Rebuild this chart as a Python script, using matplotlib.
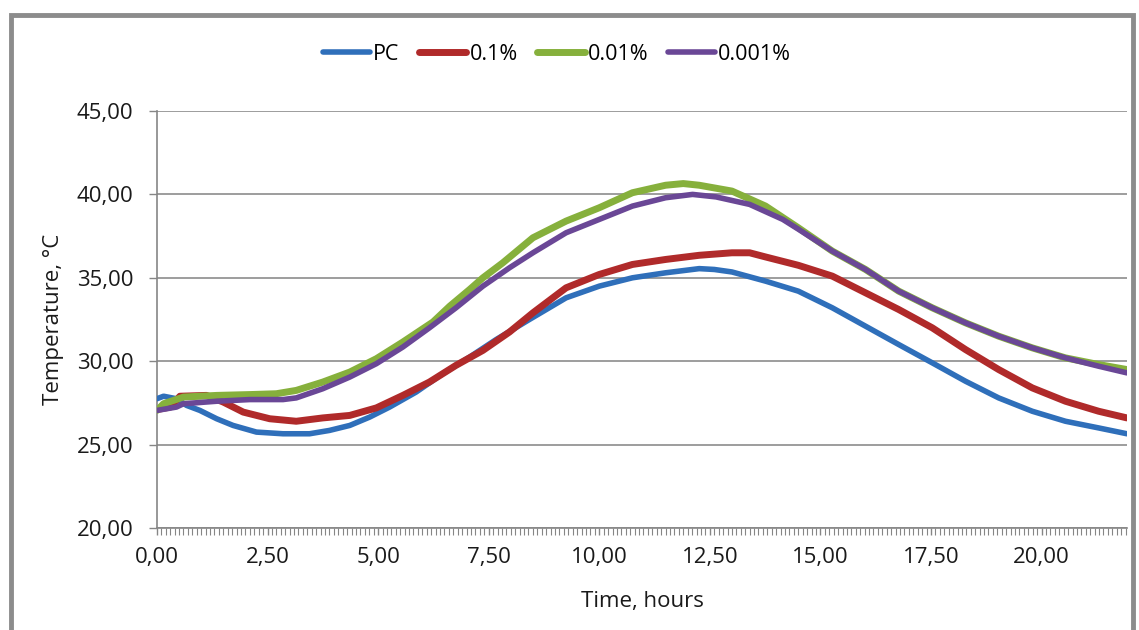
import matplotlib
matplotlib.use("Agg")
import matplotlib.pyplot as plt
from matplotlib.ticker import MultipleLocator, FuncFormatter
from matplotlib.patches import Rectangle

plt.rcParams['font.family'] = ['Open Sans', 'DejaVu Sans']

# values (hours, temperature in C)
pc_hours = [0, 0.15, 0.44, 0.67, 0.97, 1.35, 1.72, 2.25, 2.85, 3.45, 3.9, 4.36, 4.81,
            5.26, 5.86, 6.46, 7.07, 7.67, 8.42, 9.25, 10.0, 10.75, 11.5, 12.26, 12.6,
            13.0, 13.76, 14.5, 15.27, 16.02, 16.77, 17.53, 18.28, 19.03, 19.79, 20.54,
            21.29, 21.93]
pc_temp = [27.75, 27.9, 27.75, 27.35, 27.05, 26.55, 26.15, 25.75, 25.65, 25.65, 25.85,
           26.15, 26.65, 27.25, 28.15, 29.25, 30.25, 31.3, 32.5, 33.8, 34.5, 35.0, 35.3,
           35.55, 35.5, 35.35, 34.8, 34.2, 33.2, 32.1, 31.0, 29.9, 28.8, 27.8, 27.0,
           26.4, 26.0, 25.65]

p01_hours = [0, 0.3, 0.52, 1.12, 1.5, 1.95, 2.55, 3.15, 3.75, 4.36, 4.96, 5.56, 6.16,
             6.76, 7.37, 7.97, 8.5, 9.25, 10.0, 10.75, 11.5, 12.26, 13.0, 13.4, 13.76,
             14.5, 15.27, 16.02, 16.77, 17.53, 18.28, 19.03, 19.79, 20.54, 21.29, 21.93]
p01_temp = [27.1, 27.25, 27.9, 27.95, 27.55, 26.95, 26.55, 26.4, 26.6, 26.75, 27.2,
            27.95, 28.75, 29.75, 30.65, 31.75, 32.9, 34.4, 35.2, 35.8, 36.1, 36.35, 36.5,
            36.5, 36.25, 35.75, 35.1, 34.1, 33.1, 32.0, 30.7, 29.5, 28.4, 27.6, 27.0, 26.6]

p001_hours = [0, 0.15, 0.6, 1.35, 2.1, 2.7, 3.15, 3.75, 4.36, 4.96, 5.56, 6.24, 6.62,
              7.07, 7.37, 7.82, 8.5, 9.25, 10.0, 10.75, 11.5, 11.9, 12.26, 13.0, 13.76,
              14.5, 15.27, 16.02, 16.77, 17.53, 18.28, 19.03, 19.79, 20.54, 21.29, 21.93]
p001_temp = [27.05, 27.45, 27.85, 27.95, 28.0, 28.05, 28.25, 28.75, 29.35, 30.15, 31.15,
             32.35, 33.3, 34.3, 35.0, 35.9, 37.4, 38.4, 39.2, 40.1, 40.55, 40.65, 40.55,
             40.2, 39.3, 38.0, 36.6, 35.5, 34.2, 33.2, 32.3, 31.5, 30.8, 30.2, 29.8, 29.5]

p0001_hours = [0, 0.44, 0.6, 1.35, 2.1, 2.85, 3.15, 3.75, 4.36, 4.96, 5.56, 6.16, 6.76,
               7.37, 7.97, 8.5, 9.25, 10.0, 10.75, 11.5, 12.11, 12.64, 13.4, 14.15,
               14.51, 15.27, 16.02, 16.77, 17.53, 18.28, 19.03, 19.79, 20.54, 21.29, 21.93]
p0001_temp = [27.05, 27.25, 27.45, 27.6, 27.7, 27.7, 27.8, 28.35, 29.05, 29.85, 30.85,
              32.0, 33.2, 34.5, 35.6, 36.5, 37.7, 38.5, 39.3, 39.8, 40.0, 39.85, 39.4,
              38.5, 37.9, 36.6, 35.5, 34.2, 33.2, 32.3, 31.5, 30.8, 30.2, 29.7, 29.3]

labels = ['PC', '0.1%', '0.01%', '0.001%']
colors = ['#2f6fba', '#b02a2a', '#86b03c', '#6a4796']

fig = plt.figure(figsize=(11.39, 6.30), dpi=100)
ax = fig.add_axes([0.1378, 0.1619, 0.8516, 0.6619])

series = [(pc_hours, pc_temp), (p01_hours, p01_temp),
          (p001_hours, p001_temp), (p0001_hours, p0001_temp)]
widths = [4.0, 5.0, 5.0, 4.0]
for (h, t), lab, c, w in zip(series, labels, colors, widths):
    ax.plot(h, t, color=c, lw=w, label=lab, solid_capstyle='round', zorder=3)

ax.set_xlim(0, 21.93)
ax.set_ylim(20, 45)
ax.yaxis.set_major_locator(MultipleLocator(5))
ax.xaxis.set_major_locator(MultipleLocator(2.5))
ax.xaxis.set_minor_locator(MultipleLocator(0.1))
fmt = FuncFormatter(lambda v, p: f"{v:.2f}".replace('.', ','))
ax.xaxis.set_major_formatter(fmt)
ax.yaxis.set_major_formatter(fmt)

ax.grid(axis='y', color='#8c8c8c', lw=1.2)
ax.set_axisbelow(True)
for s in ['top', 'right']:
    ax.spines[s].set_visible(False)
for s in ['left', 'bottom']:
    ax.spines[s].set_color('#868686')
    ax.spines[s].set_linewidth(1.2)

ax.tick_params(axis='both', which='major', labelsize=16, color='#868686',
               width=1, labelcolor='#1a1a1a')
ax.tick_params(axis='y', which='major', length=6, pad=11)
ax.tick_params(axis='x', which='major', length=5, pad=9)
ax.tick_params(axis='x', which='minor', color='#868686', length=5, width=0.8)

ax.set_xlabel('Time, hours', fontsize=16, color='#1a1a1a', labelpad=16)
ax.set_ylabel('Temperature, °C', fontsize=16, color='#1a1a1a', labelpad=9)

handles, labs = ax.get_legend_handles_labels()
fig.legend(handles, labs, loc='center', bbox_to_anchor=(557 / 1139, 1 - 54 / 630),
           ncol=4, frameon=False, fontsize=15.5, handlelength=2.2,
           handletextpad=0.15, columnspacing=0.9)

# grey outer frame of the chart area
fig.patches.append(Rectangle((11 / 1139, -0.1), 1122 / 1139, 1.1 - 15 / 630,
                             transform=fig.transFigure, fill=False,
                             edgecolor='#8c8c8c', lw=3.5, clip_on=False))

fig.savefig('out.png', dpi=100)
